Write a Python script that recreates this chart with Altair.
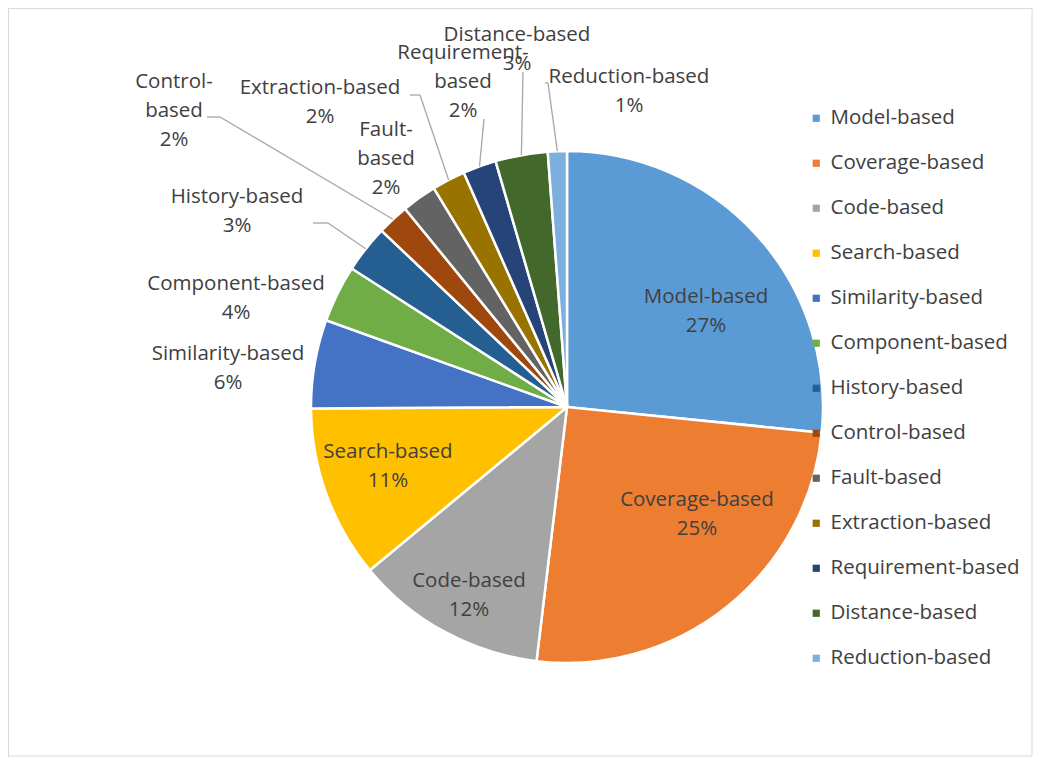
import altair as alt
import pandas as pd

# ---- data ----
categories = ["Model-based", "Coverage-based", "Code-based", "Search-based",
              "Similarity-based", "Component-based", "History-based",
              "Control-based", "Fault-based", "Extraction-based",
              "Requirement-based", "Distance-based", "Reduction-based"]
shares = [26.6, 25.3, 12.1, 10.9, 5.6, 3.6, 3.0, 2.0, 2.2, 2.1, 2.1, 3.3, 1.2]
label_text = ["Model-based", "Coverage-based", "Code-based", "Search-based",
              "Similarity-based", "Component-based", "History-based",
              "Control-\nbased", "Fault-\nbased", "Extraction-based",
              "Requirement-\nbased", "Distance-based", "Reduction-based"]

# ---- style ----
colors = ["#5B9BD5", "#ED7D31", "#A5A5A5", "#FFC000", "#4472C4", "#70AD47",
          "#255E91", "#9E480E", "#636363", "#997300", "#264478", "#43682B",
          "#7CAFDD"]
TEXT = "#404040"
FONT = "Open Sans"
FS = 20.5
W, H = 1025, 749
CX, CY, R = 559, 399, 256

# ---- label layout (pixel anchor of each label's first line, chart coords) ----
label_x = [698, 689, 461, 380, 220, 228, 229, 166, 378, 312, 455, 509, 621]
label_y = [289, 492, 573, 444, 346, 276, 189, 74, 122, 80, 45, 27, 69]
# leader lines: start x, knee x, y (None = no leader line)
lead_sx = [None, None, None, None, None, None, 305, 199, None, 402, 476, 515, 537]
lead_kx = [None, None, None, None, None, None, 320, 212, None, 412, 476, 515, 540]
lead_y = [None, None, None, None, None, None, 215, 109, None, 87, 111, 64, 75]

df = pd.DataFrame({
    "idx": list(range(len(categories))),
    "category": categories,
    "share": shares,
    "label": label_text,
    "lx": label_x,
    "ly": label_y,
    "sx": lead_sx,
    "kx": lead_kx,
    "ky": lead_y,
})

base = alt.Chart(df)

pie = base.mark_arc(outerRadius=R, stroke="white", strokeWidth=2.5).encode(
    theta=alt.Theta("share:Q", stack=True),
    order=alt.Order("idx:Q", sort="ascending"),
    color=alt.Color(
        "category:N",
        scale=alt.Scale(domain=categories, range=colors),
        legend=alt.Legend(
            title=None, orient="none", legendX=798, legendY=100,
            symbolType="square", symbolSize=52, symbolStrokeWidth=0,
            labelFont=FONT, labelFontSize=FS, labelColor=TEXT,
            labelOffset=4, rowPadding=24, padding=0, labelLimit=300,
        ),
    ),
    x=alt.value(CX),
    y=alt.value(CY),
)

with_geom = base.transform_joinaggregate(
    total="sum(share)"
).transform_window(
    cum="sum(share)", sort=[alt.SortField("idx")], frame=[None, 0]
).transform_calculate(
    ang="2*PI*(datum.cum - datum.share/2)/datum.total",
    ex=f"{CX} + {R}*sin(datum.ang)",
    ey=f"{CY} - {R}*cos(datum.ang)",
    txt="datum.label + '\\n' + format(datum.share/datum.total, '.0%')",
)

labels = with_geom.mark_text(
    font=FONT, fontSize=FS, color=TEXT, lineBreak="\n", lineHeight=29,
    align="center", baseline="middle",
).encode(
    x=alt.X("lx:Q", scale=None),
    y=alt.Y("ly:Q", scale=None),
    text="txt:N",
)

leads = with_geom.transform_filter("isValid(datum.kx)")

stub = leads.mark_rule(color="#A6A6A6", strokeWidth=1.3).encode(
    x=alt.X("sx:Q", scale=None), x2="kx:Q",
    y=alt.Y("ky:Q", scale=None), y2="ky:Q",
)
diag = leads.mark_rule(color="#A6A6A6", strokeWidth=1.3).encode(
    x=alt.X("kx:Q", scale=None), x2="ex:Q",
    y=alt.Y("ky:Q", scale=None), y2="ey:Q",
)

frame = alt.Chart(pd.DataFrame({"a": [0]})).mark_rect(
    filled=False, stroke="#D9D9D9", strokeWidth=1
).encode(
    x=alt.value(0.5), x2=alt.value(W - 1),
    y=alt.value(0.5), y2=alt.value(H - 1),
)

chart = alt.layer(frame, pie, stub, diag, labels).properties(
    width=W, height=H, autosize=alt.AutoSizeParams(type="none"), padding=0,
).configure_view(stroke=None).configure(background="white")

chart.save("out.html", embed_options={"renderer": "svg", "actions": False})
